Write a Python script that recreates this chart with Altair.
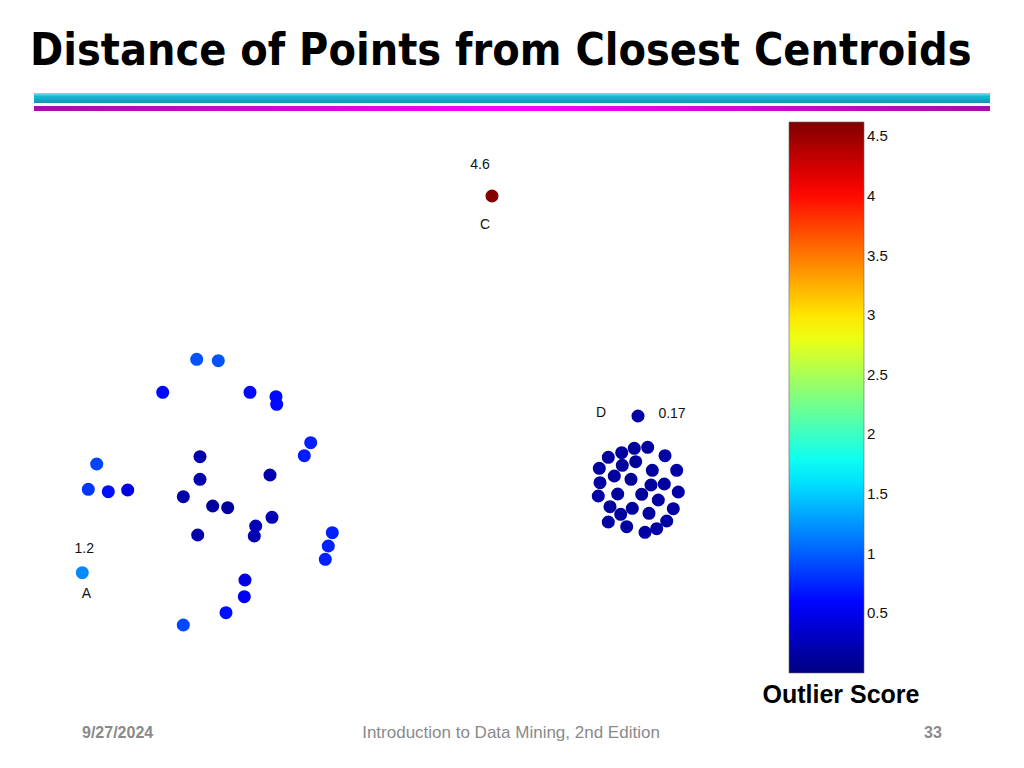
import altair as alt
import pandas as pd

# ---- data (page-pixel coordinate system, y downward) ----
left_x = [196.7, 218.3, 162.7, 250.0, 276.0, 276.7, 310.7, 304.3, 200.0, 96.7,
          200.0, 270.0, 88.3, 108.3, 127.7, 183.3, 212.7, 227.7, 272.0, 255.7,
          254.3, 197.7, 332.3, 328.3, 325.3, 245.0, 244.3, 226.0, 183.3]
left_y = [359.3, 360.7, 392.3, 392.3, 396.7, 404.3, 442.7, 455.7, 456.7, 464.0,
          479.3, 475.0, 489.3, 491.7, 490.0, 496.7, 506.0, 507.7, 517.3, 526.0,
          536.0, 535.0, 532.7, 546.0, 559.3, 580.0, 596.7, 612.7, 625.0]
left_score = [0.95, 0.95, 0.62, 0.62, 0.62, 0.62, 0.72, 0.70, 0.20, 0.88,
              0.20, 0.22, 0.82, 0.65, 0.45, 0.18, 0.15, 0.15, 0.25, 0.25,
              0.22, 0.20, 0.72, 0.72, 0.72, 0.45, 0.55, 0.65, 0.90]

dense_x = [647.7, 634.3, 621.7, 608.3, 665.0, 635.7, 622.3, 599.3, 676.7, 652.3,
           614.3, 600.0, 631.0, 664.3, 651.0, 678.3, 598.3, 617.7, 641.7, 658.3,
           610.0, 632.3, 673.3, 620.7, 649.0, 666.7, 608.3, 626.7, 656.7, 645.0]
dense_y = [447.3, 448.3, 452.7, 457.3, 455.7, 461.7, 465.3, 468.3, 470.3, 470.3,
           476.0, 482.7, 479.3, 484.0, 485.0, 492.0, 496.0, 494.0, 494.3, 500.0,
           506.7, 508.3, 508.7, 514.3, 513.3, 521.0, 522.0, 526.7, 528.7, 532.3]
dense_score = [0.14, 0.13, 0.15, 0.16, 0.17, 0.12, 0.13, 0.16, 0.18, 0.13,
               0.14, 0.16, 0.12, 0.15, 0.13, 0.18, 0.17, 0.14, 0.12, 0.14,
               0.15, 0.13, 0.17, 0.15, 0.14, 0.16, 0.17, 0.15, 0.16, 0.17]

# labelled points: A, C, D
named = ["A", "C", "D"]
named_x = [82.3, 492.0, 638.0]
named_y = [572.7, 196.0, 416.0]
named_score = [1.2, 4.6, 0.17]
named_score_text = ["1.2", "4.6", "0.17"]

colorbar_ticks = [0.5, 1, 1.5, 2, 2.5, 3, 3.5, 4, 4.5]
score_max = 4.62

title_text = "Distance of Points from Closest Centroids"
footer_date = "9/27/2024"
footer_center = "Introduction to Data Mining, 2nd Edition"
footer_page = "33"
colorbar_title = "Outlier Score"

# jet colormap stops, from low score (navy) to high score (dark red)
jet_colors = ["#000080", "#0000ff", "#0080ff", "#00ffff", "#80ff80",
              "#ffff00", "#ff8000", "#ff0000", "#800000"]
jet_domain = [score_max * i / 8 for i in range(9)]

points = pd.DataFrame({
    "x": left_x + dense_x + named_x,
    "y": left_y + dense_y + named_y,
    "score": left_score + dense_score + named_score,
})
labels = pd.DataFrame({"name": named, "x": named_x, "y": named_y, "val": named_score_text})

W, H = 1008, 752
xs = alt.Scale(domain=[8, 8 + W], nice=False, zero=False)
ys = alt.Scale(domain=[8, 8 + H], nice=False, zero=False, reverse=True)

FONT = "Liberation Sans, Arial, sans-serif"

scatter = alt.Chart(points).mark_point(filled=True, shape="circle", size=170, opacity=1).encode(
    x=alt.X("x:Q", scale=xs, axis=None),
    y=alt.Y("y:Q", scale=ys, axis=None),
    color=alt.Color(
        "score:Q",
        scale=alt.Scale(domain=jet_domain, range=jet_colors, interpolate="rgb"),
        legend=alt.Legend(
            title=None, orient="none", direction="vertical",
            legendX=781, legendY=114,
            gradientLength=551, gradientThickness=75,
            gradientStrokeColor="#666", gradientStrokeWidth=0.6,
            values=colorbar_ticks, format=".2~f",
            labelFontSize=15, labelFont=FONT,
            labelColor="#111", labelOffset=3, padding=0, labelOverlap=False,
        ),
    ),
)

def lbl(name, field, dx, dy):
    return alt.Chart(labels[labels["name"] == name]).mark_text(
        font=FONT, fontSize=14, color="#111", dx=dx, dy=dy, baseline="middle", align="center"
    ).encode(x=alt.X("x:Q", scale=xs), y=alt.Y("y:Q", scale=ys), text=f"{field}:N")

ann = [
    lbl("C", "val", -12, -31), lbl("C", "name", -7, 29),
    lbl("D", "name", -37, -3), lbl("D", "val", 34, -2),
    lbl("A", "val", 2, -24), lbl("A", "name", 4, 21),
]

def deco_text(txt, px, py, **kw):
    return alt.Chart(pd.DataFrame({"t": [txt]})).mark_text(**kw).encode(
        x=alt.value(px - 8), y=alt.value(py - 8), text="t:N")

title = deco_text(title_text, 30, 65, font="DejaVu Sans Condensed, DejaVu Sans",
                  fontWeight="bold", fontSize=44.5, align="left", baseline="alphabetic", color="#000")

cyan_grad = alt.Gradient(gradient="linear", x1=0, x2=0, y1=0, y2=1, stops=[
    alt.GradientStop(color="#7fe3f0", offset=0),
    alt.GradientStop(color="#16b8d6", offset=0.35),
    alt.GradientStop(color="#0fa6c6", offset=0.7),
    alt.GradientStop(color="#1a8fae", offset=1),
])
mag_grad = alt.Gradient(gradient="linear", x1=0, x2=1, y1=0, y2=0, stops=[
    alt.GradientStop(color="#a0129e", offset=0),
    alt.GradientStop(color="#ff00ff", offset=0.5),
    alt.GradientStop(color="#a0129e", offset=1),
])
one = pd.DataFrame({"k": [0]})
band1 = alt.Chart(one).mark_rect(color=cyan_grad).encode(
    x=alt.value(34 - 8), x2=alt.value(990 - 8), y=alt.value(93 - 8), y2=alt.value(103 - 8))
band2 = alt.Chart(one).mark_rect(color=mag_grad).encode(
    x=alt.value(34 - 8), x2=alt.value(990 - 8), y=alt.value(106 - 8), y2=alt.value(111 - 8))

cb_title = deco_text(colorbar_title, 841, 695, font=FONT, fontWeight="bold", fontSize=25,
                     align="center", baseline="middle", color="#000")

FFONT = "Liberation Sans, Arial, sans-serif"
f1 = deco_text(footer_date, 82, 733, font=FFONT, fontWeight="bold", fontSize=16,
               align="left", baseline="middle", color="#8a8a8a")
f2 = deco_text(footer_center, 511, 733, font=FFONT, fontSize=17,
               align="center", baseline="middle", color="#8a8a8a")
f3 = deco_text(footer_page, 933, 733, font=FFONT, fontWeight="bold", fontSize=16,
               align="center", baseline="middle", color="#8a8a8a")

chart = alt.layer(band1, band2, title, scatter, *ann, cb_title, f1, f2, f3).properties(
    width=W, height=H, padding=0, autosize=alt.AutoSizeParams(type="none")
).configure_view(stroke=None)

chart.save("out.html", embed_options={"renderer": "svg", "actions": False})
